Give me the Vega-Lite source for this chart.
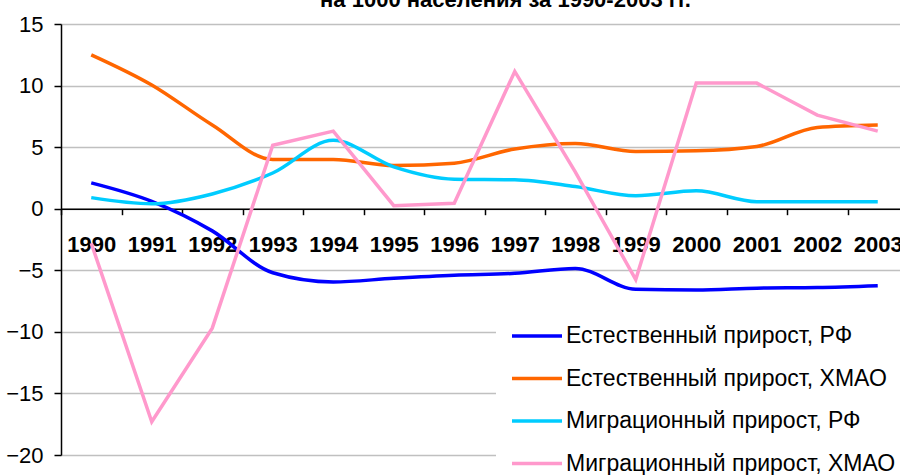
{
  "$schema": "https://vega.github.io/schema/vega-lite/v6.json",
  "width": 839,
  "height": 431,
  "autosize": {"type": "none"},
  "padding": {"left": 61, "top": 24, "right": 0, "bottom": 20},
  "background": "white",
  "title": {"text": "на 1000 населения за 1990-2003 гг.", "font": "Liberation Sans", "fontSize": 22, "fontWeight": "bold", "color": "black", "anchor": "middle", "offset": 1, "dx": 25},
  "data": {"values": [
    {"year": 1990, "s": "Естественный прирост, РФ", "v": 2.1},
    {"year": 1991, "s": "Естественный прирост, РФ", "v": 0.6},
    {"year": 1992, "s": "Естественный прирост, РФ", "v": -1.8},
    {"year": 1993, "s": "Естественный прирост, РФ", "v": -5.2},
    {"year": 1994, "s": "Естественный прирост, РФ", "v": -5.95},
    {"year": 1995, "s": "Естественный прирост, РФ", "v": -5.65},
    {"year": 1996, "s": "Естественный прирост, РФ", "v": -5.4},
    {"year": 1997, "s": "Естественный прирост, РФ", "v": -5.25},
    {"year": 1998, "s": "Естественный прирост, РФ", "v": -4.85},
    {"year": 1999, "s": "Естественный прирост, РФ", "v": -6.55},
    {"year": 2000, "s": "Естественный прирост, РФ", "v": -6.6},
    {"year": 2001, "s": "Естественный прирост, РФ", "v": -6.45},
    {"year": 2002, "s": "Естественный прирост, РФ", "v": -6.4},
    {"year": 2003, "s": "Естественный прирост, РФ", "v": -6.25},
    {"year": 1990, "s": "Естественный прирост, ХМАО", "v": 12.5},
    {"year": 1991, "s": "Естественный прирост, ХМАО", "v": 10.05},
    {"year": 1992, "s": "Естественный прирост, ХМАО", "v": 6.8},
    {"year": 1993, "s": "Естественный прирост, ХМАО", "v": 4.0},
    {"year": 1994, "s": "Естественный прирост, ХМАО", "v": 4.0},
    {"year": 1995, "s": "Естественный прирост, ХМАО", "v": 3.5},
    {"year": 1996, "s": "Естественный прирост, ХМАО", "v": 3.7},
    {"year": 1997, "s": "Естественный прирост, ХМАО", "v": 4.85},
    {"year": 1998, "s": "Естественный прирост, ХМАО", "v": 5.3},
    {"year": 1999, "s": "Естественный прирост, ХМАО", "v": 4.65},
    {"year": 2000, "s": "Естественный прирост, ХМАО", "v": 4.7},
    {"year": 2001, "s": "Естественный прирост, ХМАО", "v": 5.05},
    {"year": 2002, "s": "Естественный прирост, ХМАО", "v": 6.6},
    {"year": 2003, "s": "Естественный прирост, ХМАО", "v": 6.8},
    {"year": 1990, "s": "Миграционный прирост, РФ", "v": 0.9},
    {"year": 1991, "s": "Миграционный прирост, РФ", "v": 0.4},
    {"year": 1992, "s": "Миграционный прирост, РФ", "v": 1.2},
    {"year": 1993, "s": "Миграционный прирост, РФ", "v": 2.9},
    {"year": 1994, "s": "Миграционный прирост, РФ", "v": 5.55},
    {"year": 1995, "s": "Миграционный прирост, РФ", "v": 3.4},
    {"year": 1996, "s": "Миграционный прирост, РФ", "v": 2.4},
    {"year": 1997, "s": "Миграционный прирост, РФ", "v": 2.35},
    {"year": 1998, "s": "Миграционный прирост, РФ", "v": 1.8},
    {"year": 1999, "s": "Миграционный прирост, РФ", "v": 1.05},
    {"year": 2000, "s": "Миграционный прирост, РФ", "v": 1.45},
    {"year": 2001, "s": "Миграционный прирост, РФ", "v": 0.57},
    {"year": 2002, "s": "Миграционный прирост, РФ", "v": 0.57},
    {"year": 2003, "s": "Миграционный прирост, РФ", "v": 0.57},
    {"year": 1990, "s": "Миграционный прирост, ХМАО", "v": -2.8},
    {"year": 1991, "s": "Миграционный прирост, ХМАО", "v": -17.3},
    {"year": 1992, "s": "Миграционный прирост, ХМАО", "v": -9.7},
    {"year": 1993, "s": "Миграционный прирост, ХМАО", "v": 5.15},
    {"year": 1994, "s": "Миграционный прирост, ХМАО", "v": 6.3},
    {"year": 1995, "s": "Миграционный прирост, ХМАО", "v": 0.25},
    {"year": 1996, "s": "Миграционный прирост, ХМАО", "v": 0.45},
    {"year": 1997, "s": "Миграционный прирост, ХМАО", "v": 11.15},
    {"year": 1998, "s": "Миграционный прирост, ХМАО", "v": 3.0},
    {"year": 1999, "s": "Миграционный прирост, ХМАО", "v": -5.75},
    {"year": 2000, "s": "Миграционный прирост, ХМАО", "v": 10.2},
    {"year": 2001, "s": "Миграционный прирост, ХМАО", "v": 10.2},
    {"year": 2002, "s": "Миграционный прирост, ХМАО", "v": 7.6},
    {"year": 2003, "s": "Миграционный прирост, ХМАО", "v": 6.3}
  ]},
  "encoding": {
    "x": {
      "field": "year", "type": "ordinal",
      "scale": {"type": "band", "range": [0, 847], "paddingInner": 0, "paddingOuter": 0},
      "bandPosition": 0.5,
      "axis": {"title": null, "offset": -246.3, "labelAngle": 0, "grid": false, "tickBand": "extent",
        "domainColor": "black", "domainWidth": 1.5, "tickColor": "black", "tickWidth": 1.5, "tickSize": 6,
        "labelFont": "Liberation Sans", "labelFontSize": 22, "labelFontWeight": "bold", "labelColor": "black", "labelPadding": 20}
    },
    "y": {
      "field": "v", "type": "quantitative",
      "scale": {"domain": [-20, 15], "nice": false, "zero": false},
      "axis": {"title": null, "values": [-20, -15, -10, -5, 0, 5, 10, 15], "grid": true, "gridColor": "#C0C0C0", "gridWidth": 1.5,
        "domainColor": "black", "domainWidth": 1.5, "tickColor": "black", "tickWidth": 1.5, "tickSize": 7,
        "labelFont": "Liberation Sans", "labelFontSize": 22, "labelColor": "black", "labelPadding": 11}
    },
    "color": {
      "field": "s", "type": "nominal",
      "scale": {"domain": ["Естественный прирост, РФ", "Естественный прирост, ХМАО", "Миграционный прирост, РФ", "Миграционный прирост, ХМАО"],
                "range": ["#0000FF", "#FF6600", "#00CCFF", "#FF99CC"]},
      "legend": {"title": null, "orient": "none", "legendX": 435, "legendY": 271, "fillColor": "white", "padding": 14,
        "symbolType": "stroke", "symbolSize": 2500, "symbolStrokeWidth": 3.5, "labelFont": "Liberation Sans", "labelFontSize": 23,
        "labelColor": "black", "labelOffset": 2, "labelLimit": 500, "rowPadding": 3.5}
    }
  },
  "layer": [
    {
      "transform": [{"filter": "datum.s !== 'Миграционный прирост, ХМАО'"}],
      "mark": {"type": "line", "interpolate": "monotone", "strokeWidth": 3.5}
    },
    {
      "transform": [{"filter": "datum.s === 'Миграционный прирост, ХМАО'"}],
      "mark": {"type": "line", "strokeWidth": 3.5}
    }
  ],
  "config": {"view": {"stroke": null}}
}
